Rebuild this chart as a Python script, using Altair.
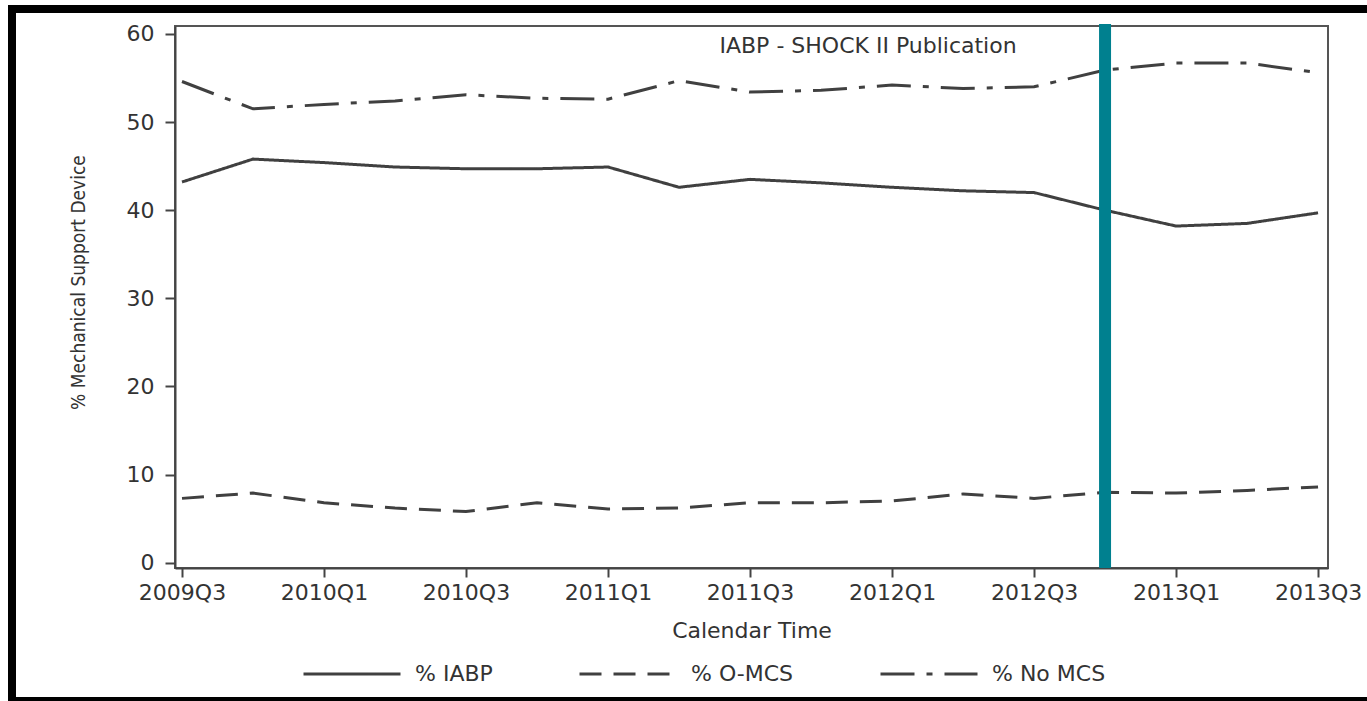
import altair as alt
import pandas as pd

# Quarterly share (%) of cardiogenic-shock admissions by mechanical support type
quarters = ["2009Q3", "2009Q4", "2010Q1", "2010Q2", "2010Q3", "2010Q4", "2011Q1",
            "2011Q2", "2011Q3", "2011Q4", "2012Q1", "2012Q2", "2012Q3", "2012Q4",
            "2013Q1", "2013Q2", "2013Q3"]
iabp = [43.2, 45.8, 45.4, 44.9, 44.7, 44.7, 44.9, 42.6, 43.5, 43.1, 42.6, 42.2,
        42.0, 40.0, 38.2, 38.5, 39.7]
omcs = [7.3, 7.9, 6.8, 6.2, 5.8, 6.8, 6.1, 6.2, 6.8, 6.8, 7.0, 7.8, 7.3, 8.0,
        7.9, 8.2, 8.6]
nomcs = [54.6, 51.5, 52.0, 52.4, 53.1, 52.7, 52.6, 54.7, 53.4, 53.6, 54.2, 53.8,
         54.0, 55.9, 56.7, 56.7, 55.6]
series_names = ["% IABP", "% O-MCS", "% No MCS"]
dash_patterns = [[1, 0], [22, 12], [34, 12, 6, 12]]

publication_quarter = "2012Q4"
publication_label = "IABP - SHOCK II Publication"
publication_label_value = 58.6

tick_labels = quarters[::2]

rows = []
for name, vals in zip(series_names, [iabp, omcs, nomcs]):
    for i, (q, v) in enumerate(zip(quarters, vals)):
        rows.append({"idx": i, "quarter": q, "series": name, "pct": v})
df = pd.DataFrame(rows)

W, H = 1153, 542
PAD_L, PAD_T = 175, 26
FONT = "DejaVu Sans"
TXT = "#333333"
LINE = "#404040"

label_array = "[" + ",".join("'%s'" % t for t in tick_labels) + "]"

x_scale = alt.Scale(domain=[-0.0986, 16.14], nice=False, zero=False)
y_scale = alt.Scale(domain=[-0.6, 60.9], nice=False, zero=False)

lines = alt.Chart(df).mark_line(strokeWidth=3, color=LINE).encode(
    x=alt.X("idx:Q", scale=x_scale,
            axis=alt.Axis(values=list(range(0, 17, 2)),
                          labelExpr=label_array + "[datum.value / 2]",
                          title="Calendar Time", titlePadding=17)),
    y=alt.Y("pct:Q", scale=y_scale,
            axis=alt.Axis(values=list(range(0, 61, 10)),
                          title="% Mechanical Support Device",
                          titleFont="DejaVu Sans Condensed, DejaVu Sans, sans-serif",
                          titleFontSize=19, titleX=-97, titleY=256,
                          titleAlign="center", titleBaseline="middle", titleAngle=270)),
    strokeDash=alt.StrokeDash(
        "series:N",
        scale=alt.Scale(domain=series_names, range=dash_patterns),
        sort=series_names,
        legend=alt.Legend(title=None, orient="none", direction="horizontal",
                          legendX=127, legendY=598, symbolType="stroke",
                          symbolSize=9409, symbolStrokeWidth=3,
                          symbolStrokeColor=LINE, labelOffset=13,
                          columnPadding=80, labelFont=FONT, labelFontSize=22,
                          labelColor=TXT, labelLimit=0)),
    detail="series:N",
)

pub_df = pd.DataFrame({"idx": [quarters.index(publication_quarter)],
                       "pct": [publication_label_value],
                       "label": [publication_label]})

pub_rule = alt.Chart(pub_df).mark_rule(color="#00808f", strokeWidth=12).encode(
    x=alt.X("idx:Q", scale=x_scale),
    y=alt.value(-2),
    y2=alt.value(H),
)

pub_text = alt.Chart(pub_df).mark_text(
    font=FONT, fontSize=22, color=TXT, align="center", baseline="middle", dx=-237
).encode(
    x=alt.X("idx:Q", scale=x_scale),
    y=alt.Y("pct:Q", scale=y_scale),
    text="label:N",
)

# black frame around the whole figure
frame = alt.Chart(pd.DataFrame({"k": [0]})).mark_rect(
    filled=False, stroke="black", strokeWidth=8, clip=False
).encode(
    x=alt.value(12 - PAD_L), x2=alt.value(1375 - PAD_L),
    y=alt.value(9 - PAD_T), y2=alt.value(701 - PAD_T),
)

chart = alt.layer(lines, pub_rule, pub_text, frame).properties(
    width=W, height=H,
    autosize=alt.AutoSizeParams(type="none"),
    padding={"left": PAD_L, "top": PAD_T, "right": 1367 - PAD_L - W,
             "bottom": 701 - PAD_T - H},
    background="white",
).configure_view(
    stroke="#555555", strokeWidth=2
).configure_axis(
    grid=False, domainColor="#444444", domainWidth=2, tickColor="#444444",
    tickWidth=2, labelFont=FONT, labelFontSize=22, labelColor=TXT,
    titleFont=FONT, titleFontSize=22, titleColor=TXT, titleFontWeight="normal"
).configure_axisX(
    tickSize=9, labelPadding=5
).configure_axisY(
    tickSize=10, labelPadding=11
)

chart.save("out.html", embed_options={"renderer": "svg", "actions": False})
